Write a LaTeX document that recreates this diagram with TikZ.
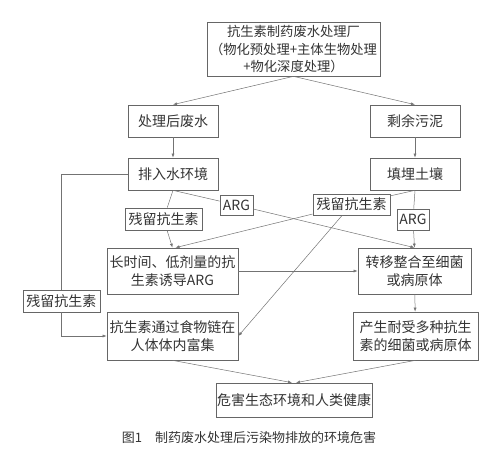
\documentclass[tikz,border=0pt]{standalone}
\usepackage{fontspec}
\setmainfont{Noto Sans CJK SC}
\usetikzlibrary{arrows.meta}

\begin{document}
\begin{tikzpicture}[x=1pt,y=-1pt,
    box/.style={draw=black!60,line width=0.7pt,inner sep=0pt,align=center,text=black!80,
        font=\fontsize{14}{18}\selectfont},
    tag/.style={box,fill=white},
    link/.style={draw=black!55,line width=0.5pt},
    arr/.style={link,-{Latex[length=4pt,width=3pt]}}]
\useasboundingbox (0,0) rectangle (504,462);
\node[box,minimum width=173,minimum height=54,font=\fontsize{13.3}{17.5}\selectfont] (plant) at (293.5,49) {抗生素制药废水处理厂\\（物化预处理+主体生物处理\\+物化深度处理）};
\node[box,minimum width=90,minimum height=32] (water) at (173,121) {处理后废水};
\node[box,minimum width=90,minimum height=32] (sludge) at (415,121) {剩余污泥};
\node[box,minimum width=90,minimum height=32] (env) at (173,174) {排入水环境};
\node[box,minimum width=90,minimum height=32] (soil) at (415,174) {填埋土壤};
\node[tag,minimum width=33,minimum height=20] (argL) at (236.5,205) {ARG};
\node[tag,minimum width=77,minimum height=22] (resL) at (163.5,219) {残留抗生素};
\node[tag,minimum width=77,minimum height=21] (resR) at (351.5,204.5) {残留抗生素};
\node[tag,minimum width=32,minimum height=21] (argR) at (413,219.5) {ARG};
\node[box,minimum width=131,minimum height=46] (induce) at (172.5,271) {长时间、低剂量的抗\\生素诱导ARG};
\node[box,minimum width=113,minimum height=46] (transfer) at (414.5,271) {转移整合至细菌\\或病原体};
\node[tag,minimum width=77,minimum height=22] (resF) at (61.5,301) {残留抗生素};
\node[box,minimum width=131,minimum height=48] (food) at (172.5,336) {抗生素通过食物链在\\人体体内富集};
\node[box,minimum width=125,minimum height=48] (tolerant) at (415.5,336) {产生耐受多种抗生\\素的细菌或病原体};
\node[box,minimum width=156,minimum height=34] (harm) at (294,400) {危害生态环境和人类健康};
\node[text=black!80,font=\fontsize{13}{14}\selectfont] (caption) at (249,438) {图1\quad 制药废水处理后污染物排放的环境危害};
\draw[arr] (plant.south) -- (water.north);
\draw[arr] (plant.south) -- (sludge.north);
\draw[arr] (water) -- (env);
\draw[arr] (sludge) -- (soil);
\draw[link] (env.south) -- (resL);
\draw[arr] (resL) -- (induce.north);
\draw[link] (env.south) -- (argL);
\draw[arr] (argL) -- (transfer.north);
\draw[link] (soil.south) -- (resR);
\draw[arr] (resR) -- ([xshift=3pt]induce.north);
\draw[link] (soil.south) -- (argR);
\draw[arr] (argR) -- (transfer.north);
\draw[arr] (resR) -- (food.east);
\draw[link] (env.west) -| (resF.north);
\draw[arr] (resF.south) |- (food.west);
\draw[arr] (induce) -- (transfer);
\draw[arr] (transfer) -- (tolerant);
\draw[arr] (food.south) -- ([xshift=-2pt]harm.north);
\draw[arr] (tolerant.south) -- ([xshift=2pt]harm.north);
\end{tikzpicture}
\end{document}
